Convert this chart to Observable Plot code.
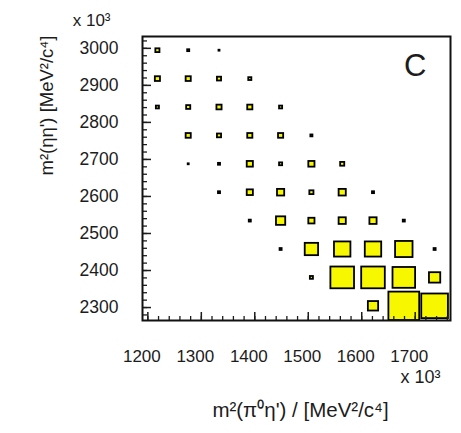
<!DOCTYPE html>
<html>
<head>
<meta charset="utf-8">
<script src="https://cdn.jsdelivr.net/npm/d3@7"></script>
<script src="https://cdn.jsdelivr.net/npm/@observablehq/plot@0.6"></script>
<style>
  body { margin: 0; background: #fff; }
  #chart { width: 461px; height: 433px; }
</style>
</head>
<body>
<div id="chart"></div>
<script>
// Dalitz-plot projection, 10 x 10 bins, values in units of 10^3 MeV^2/c^4
const xBinLow = [1190.0, 1247.6, 1305.2, 1362.8, 1420.4, 1478.0, 1535.6, 1593.2, 1650.8, 1708.4];
const xBinWidth = 57.6;
// y bins listed from the top row down
const yBinLow = [2955.3, 2878.6, 2801.9, 2725.2, 2648.5, 2571.8, 2495.1, 2418.4, 2341.7, 2265.0];
const yBinHeight = 76.7;

// bin contents, one array per y bin (top to bottom), one entry per x bin
const row0 = [4, 2, 1, 0, 0, 0, 0, 0, 0, 0];
const row1 = [5, 5, 4, 3, 0, 0, 0, 0, 0, 0];
const row2 = [3, 4, 5, 5, 3, 0, 0, 0, 0, 0];
const row3 = [0, 5, 4, 5, 5, 2, 0, 0, 0, 0];
const row4 = [0, 1, 2, 6, 3, 6, 4, 0, 0, 0];
const row5 = [0, 0, 2, 6, 7, 4, 7, 2, 0, 0];
const row6 = [0, 0, 0, 2, 9, 6, 7, 7, 2, 0];
const row7 = [0, 0, 0, 0, 2, 13, 16, 16, 17, 2];
const row8 = [0, 0, 0, 0, 0, 3, 23, 23, 22, 11];
const row9 = [0, 0, 0, 0, 0, 0, 0, 10, 30, 26];
const rows = [row0, row1, row2, row3, row4, row5, row6, row7, row8, row9];

const xMajor = [1200, 1300, 1400, 1500, 1600, 1700];
const yMajor = [2300, 2400, 2500, 2600, 2700, 2800, 2900, 3000];
const xMinor = d3.range(1200, 1766, 20);
const yMinor = d3.range(2280, 3032, 20);

const xDomain = [1190, 1766];
const yDomain = [2265, 3032];

// ROOT-style "box" drawing: box side proportional to bin content
const zMax = d3.max(rows.flat());
const cells = [];
rows.forEach((r, j) => r.forEach((z, i) => {
  if (z > 0) cells.push({x0: xBinLow[i], y0: yBinLow[j], z});
}));
const half = (c, w) => (c.z / zMax) * w / 2;

const font = "Liberation Sans, Arial, Helvetica, sans-serif";
const ink = "#1c1c1c";

const chart = Plot.plot({
  width: 461,
  height: 433,
  marginLeft: 142,
  marginRight: 11,
  marginTop: 36,
  marginBottom: 113,
  style: {fontFamily: font, background: "#fff", color: ink},
  x: {domain: xDomain, axis: null},
  y: {domain: yDomain, axis: null},
  marks: [
    Plot.rect(cells, {
      x1: c => c.x0 + xBinWidth / 2 - half(c, xBinWidth),
      x2: c => c.x0 + xBinWidth / 2 + half(c, xBinWidth),
      y1: c => c.y0 + yBinHeight / 2 - half(c, yBinHeight),
      y2: c => c.y0 + yBinHeight / 2 + half(c, yBinHeight),
      fill: "#f7f700",
      stroke: "#000",
      strokeWidth: 1.8
    }),
    // inward ticks on the bottom and left edges
    Plot.tickX(xMinor, {x: d => d, insetTop: 284 - 4, stroke: ink, strokeWidth: 1.3}),
    Plot.tickX(xMajor, {x: d => d, insetTop: 284 - 8, stroke: ink, strokeWidth: 1.5}),
    Plot.tickY(yMinor, {y: d => d, insetRight: 308 - 5, stroke: ink, strokeWidth: 1.3}),
    Plot.tickY(yMajor, {y: d => d, insetRight: 308 - 9, stroke: ink, strokeWidth: 1.5}),
    Plot.frame({stroke: "#111", strokeWidth: 2}),
    // tick labels
    Plot.text(xMajor, {x: d => d, text: d => String(d), frameAnchor: "bottom", dy: 36, dx: -6,
      fontSize: 17, fill: ink, lineAnchor: "middle"}),
    Plot.text(yMajor, {y: d => d, text: d => String(d), frameAnchor: "left", dx: -24,
      textAnchor: "end", fontSize: 17.5, fill: ink, lineAnchor: "middle"}),
    // exponent factors
    Plot.text(["x 10³"], {text: d => d, frameAnchor: "top-left", dx: -32, dy: -16,
      textAnchor: "end", lineAnchor: "middle", fontSize: 17, fill: ink}),
    Plot.text(["x 10³"], {text: d => d, frameAnchor: "bottom-right", dx: -10, dy: 57,
      textAnchor: "end", lineAnchor: "middle", fontSize: 18, fill: ink}),
    // axis titles
    Plot.text(["m²(π⁰η') / [MeV²/c⁴]"], {text: d => d, frameAnchor: "bottom", dx: 4, dy: 90,
      lineAnchor: "middle", fontSize: 20.5, fill: ink}),
    Plot.text(["m²(ηη') [MeV²/c⁴]"], {text: d => d, frameAnchor: "left", dx: -95, dy: -3,
      rotate: -90, lineAnchor: "middle", fontSize: 18.5, fill: ink}),
    // panel letter
    Plot.text(["C"], {text: d => d, frameAnchor: "top-right", dx: -24, dy: 30,
      lineAnchor: "middle", fontSize: 31, fill: ink})
  ]
});

document.getElementById("chart").append(chart);
</script>
</body>
</html>
